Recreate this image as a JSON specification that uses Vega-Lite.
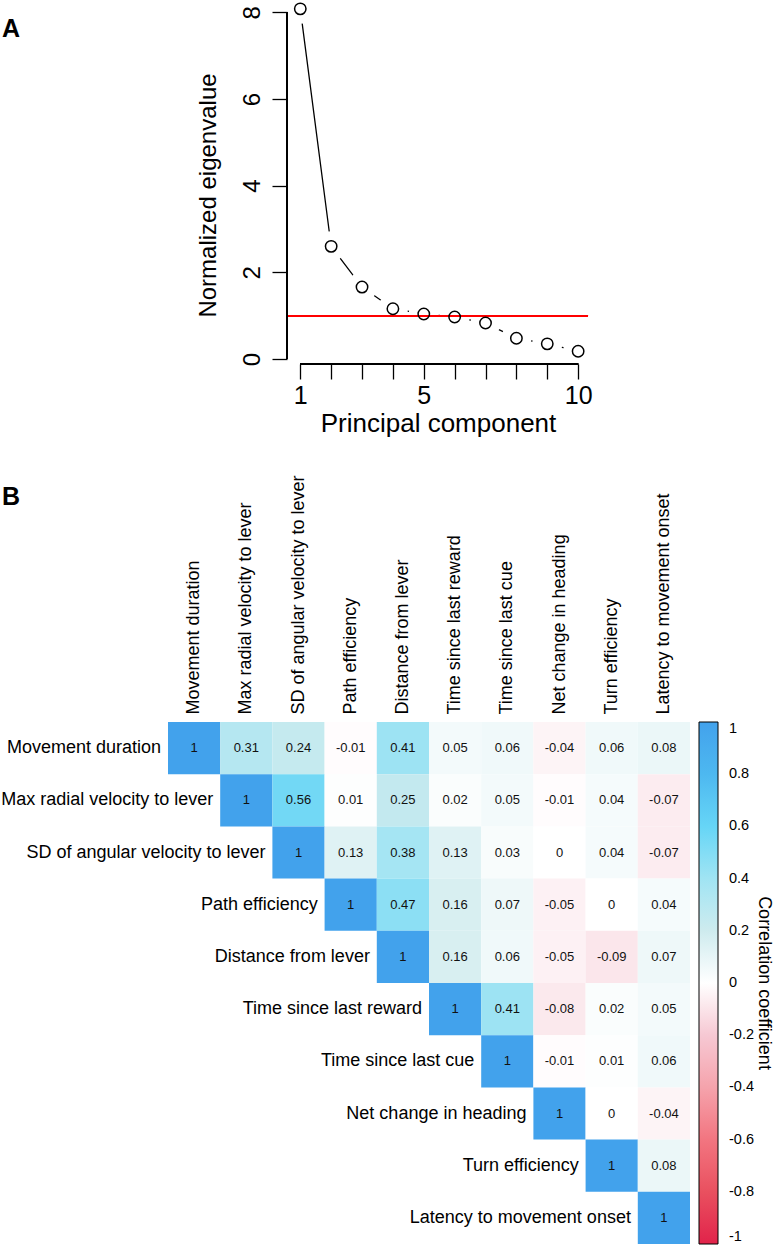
{
  "$schema": "https://vega.github.io/schema/vega-lite/v6.json",
  "padding": {"left": 1, "top": 0, "right": 0, "bottom": 0},
  "config": {
    "font": "Liberation Sans",
    "view": {"stroke": null},
    "axis": {"labelColor": "black", "titleColor": "black", "titleFontWeight": "normal", "tickColor": "black", "domainColor": "black", "grid": false, "labelFont": "Liberation Sans", "titleFont": "Liberation Sans"},
    "legend": {"labelFont": "Liberation Sans", "titleFont": "Liberation Sans"},
    "title": {"font": "Liberation Sans", "color": "black"}
  },
  "resolve": {"legend": {"color": "independent"}, "scale": {"color": "independent"}},
  "spacing": 38,
  "vconcat": [
    {
      "width": 421,
      "height": 362,
      "title": {"text": "A", "anchor": "start", "frame": "group", "fontSize": 25, "fontWeight": "bold", "dx": -166, "dy": 42, "offset": 0},
      "data": {"values": [
        {"pc": 1, "ev": 8.08}, {"pc": 2, "ev": 2.60}, {"pc": 3, "ev": 1.66}, {"pc": 4, "ev": 1.16}, {"pc": 5, "ev": 1.04},
        {"pc": 6, "ev": 0.97}, {"pc": 7, "ev": 0.83}, {"pc": 8, "ev": 0.48}, {"pc": 9, "ev": 0.35}, {"pc": 10, "ev": 0.18}
      ]},
      "encoding": {
        "x": {"field": "pc", "type": "quantitative",
          "scale": {"domain": [-3.285, 10.352], "nice": false, "zero": false},
          "axis": {"values": [1, 2, 3, 4, 5, 6, 7, 8, 9, 10],
            "labelExpr": "datum.value == 1 || datum.value == 5 || datum.value == 10 ? datum.label : ''",
            "domain": false, "tickSize": 15, "tickWidth": 1.3, "labelFontSize": 25, "labelPadding": 4,
            "title": "Principal component", "titleFontSize": 26, "titleX": 270, "titlePadding": 2, "zindex": 1}},
        "y": {"field": "ev", "type": "quantitative",
          "scale": {"domain": [-0.115, 8.238], "nice": false, "zero": false},
          "axis": {"values": [0, 2, 4, 6, 8], "offset": -119, "domain": false, "tickSize": 15, "tickWidth": 1.3,
            "labelAngle": -90, "labelAlign": "center", "labelBaseline": "bottom", "labelFontSize": 24, "labelPadding": 8,
            "title": "Normalized eigenvalue", "titleFontSize": 24, "titleY": 193, "titlePadding": 20, "zindex": 1}}
      },
      "layer": [
        {"mark": {"type": "line", "color": "black", "strokeWidth": 1.3}},
        {"mark": {"type": "point", "shape": "circle", "filled": true, "fill": "white", "color": "white", "fillOpacity": 1, "opacity": 1, "size": 900, "strokeOpacity": 0, "clip": true}},
        {"mark": {"type": "rule", "color": "#FF0000", "strokeWidth": 1.5},
          "encoding": {"x": {"datum": 0.572}, "x2": {"datum": 10.32}, "y": {"datum": 1}}},
        {"mark": {"type": "rule", "color": "black", "strokeWidth": 1.3},
          "encoding": {"x": {"datum": 0.572}, "y": {"datum": 0}, "y2": {"datum": 8}}},
        {"mark": {"type": "rule", "color": "black", "strokeWidth": 1.3},
          "encoding": {"x": {"datum": 1}, "x2": {"datum": 10}, "y": {"datum": -0.115}}},
        {"mark": {"type": "point", "shape": "circle", "filled": false, "stroke": "black", "strokeWidth": 1.5, "size": 130, "opacity": 1}}
      ]
    },
    {
      "width": 522,
      "height": 522,
      "title": {"text": "B", "anchor": "start", "frame": "group", "fontSize": 25, "fontWeight": "bold", "dx": -166, "dy": 35, "offset": 0},
      "data": {"values": [
        {"row": "Movement duration", "col": "Movement duration", "v": 1},
        {"row": "Movement duration", "col": "Max radial velocity to lever", "v": 0.31},
        {"row": "Movement duration", "col": "SD of angular velocity to lever", "v": 0.24},
        {"row": "Movement duration", "col": "Path efficiency", "v": -0.01},
        {"row": "Movement duration", "col": "Distance from lever", "v": 0.41},
        {"row": "Movement duration", "col": "Time since last reward", "v": 0.05},
        {"row": "Movement duration", "col": "Time since last cue", "v": 0.06},
        {"row": "Movement duration", "col": "Net change in heading", "v": -0.04},
        {"row": "Movement duration", "col": "Turn efficiency", "v": 0.06},
        {"row": "Movement duration", "col": "Latency to movement onset", "v": 0.08},
        {"row": "Max radial velocity to lever", "col": "Max radial velocity to lever", "v": 1},
        {"row": "Max radial velocity to lever", "col": "SD of angular velocity to lever", "v": 0.56},
        {"row": "Max radial velocity to lever", "col": "Path efficiency", "v": 0.01},
        {"row": "Max radial velocity to lever", "col": "Distance from lever", "v": 0.25},
        {"row": "Max radial velocity to lever", "col": "Time since last reward", "v": 0.02},
        {"row": "Max radial velocity to lever", "col": "Time since last cue", "v": 0.05},
        {"row": "Max radial velocity to lever", "col": "Net change in heading", "v": -0.01},
        {"row": "Max radial velocity to lever", "col": "Turn efficiency", "v": 0.04},
        {"row": "Max radial velocity to lever", "col": "Latency to movement onset", "v": -0.07},
        {"row": "SD of angular velocity to lever", "col": "SD of angular velocity to lever", "v": 1},
        {"row": "SD of angular velocity to lever", "col": "Path efficiency", "v": 0.13},
        {"row": "SD of angular velocity to lever", "col": "Distance from lever", "v": 0.38},
        {"row": "SD of angular velocity to lever", "col": "Time since last reward", "v": 0.13},
        {"row": "SD of angular velocity to lever", "col": "Time since last cue", "v": 0.03},
        {"row": "SD of angular velocity to lever", "col": "Net change in heading", "v": 0},
        {"row": "SD of angular velocity to lever", "col": "Turn efficiency", "v": 0.04},
        {"row": "SD of angular velocity to lever", "col": "Latency to movement onset", "v": -0.07},
        {"row": "Path efficiency", "col": "Path efficiency", "v": 1},
        {"row": "Path efficiency", "col": "Distance from lever", "v": 0.47},
        {"row": "Path efficiency", "col": "Time since last reward", "v": 0.16},
        {"row": "Path efficiency", "col": "Time since last cue", "v": 0.07},
        {"row": "Path efficiency", "col": "Net change in heading", "v": -0.05},
        {"row": "Path efficiency", "col": "Turn efficiency", "v": 0},
        {"row": "Path efficiency", "col": "Latency to movement onset", "v": 0.04},
        {"row": "Distance from lever", "col": "Distance from lever", "v": 1},
        {"row": "Distance from lever", "col": "Time since last reward", "v": 0.16},
        {"row": "Distance from lever", "col": "Time since last cue", "v": 0.06},
        {"row": "Distance from lever", "col": "Net change in heading", "v": -0.05},
        {"row": "Distance from lever", "col": "Turn efficiency", "v": -0.09},
        {"row": "Distance from lever", "col": "Latency to movement onset", "v": 0.07},
        {"row": "Time since last reward", "col": "Time since last reward", "v": 1},
        {"row": "Time since last reward", "col": "Time since last cue", "v": 0.41},
        {"row": "Time since last reward", "col": "Net change in heading", "v": -0.08},
        {"row": "Time since last reward", "col": "Turn efficiency", "v": 0.02},
        {"row": "Time since last reward", "col": "Latency to movement onset", "v": 0.05},
        {"row": "Time since last cue", "col": "Time since last cue", "v": 1},
        {"row": "Time since last cue", "col": "Net change in heading", "v": -0.01},
        {"row": "Time since last cue", "col": "Turn efficiency", "v": 0.01},
        {"row": "Time since last cue", "col": "Latency to movement onset", "v": 0.06},
        {"row": "Net change in heading", "col": "Net change in heading", "v": 1},
        {"row": "Net change in heading", "col": "Turn efficiency", "v": 0},
        {"row": "Net change in heading", "col": "Latency to movement onset", "v": -0.04},
        {"row": "Turn efficiency", "col": "Turn efficiency", "v": 1},
        {"row": "Turn efficiency", "col": "Latency to movement onset", "v": 0.08},
        {"row": "Latency to movement onset", "col": "Latency to movement onset", "v": 1}
      ]},
      "encoding": {
        "x": {"field": "col", "type": "nominal",
          "sort": ["Movement duration", "Max radial velocity to lever", "SD of angular velocity to lever", "Path efficiency", "Distance from lever", "Time since last reward", "Time since last cue", "Net change in heading", "Turn efficiency", "Latency to movement onset"],
          "scale": {"paddingInner": 0, "paddingOuter": 0},
          "axis": {"orient": "top", "title": null, "labelAngle": -90, "domain": false, "ticks": false, "labelPadding": 8, "labelFontSize": 18, "labelLimit": 400}},
        "y": {"field": "row", "type": "nominal",
          "sort": ["Movement duration", "Max radial velocity to lever", "SD of angular velocity to lever", "Path efficiency", "Distance from lever", "Time since last reward", "Time since last cue", "Net change in heading", "Turn efficiency", "Latency to movement onset"],
          "scale": {"paddingInner": 0, "paddingOuter": 0},
          "axis": null}
      },
      "layer": [
        {"mark": {"type": "rect"},
          "encoding": {"color": {"field": "v", "type": "quantitative",
            "scale": {"type": "linear", "domain": [-1, -0.8, -0.6, -0.4, -0.2, 0, 0.2, 0.4, 0.6, 0.8, 1],
              "range": ["#E1234A", "#E9505F", "#F27580", "#F5A3AC", "#F6C8D3", "#FFFFFF", "#CEEBEE", "#A0E4F3", "#66D5F6", "#4DB8F0", "#42A2EC"],
              "interpolate": "rgb"},
            "legend": {"orient": "right", "offset": 9, "padding": 0, "gradientLength": 522, "gradientThickness": 19,
              "gradientStrokeColor": "black", "gradientStrokeWidth": 1,
              "values": [1, 0.8, 0.6, 0.4, 0.2, 0, -0.2, -0.4, -0.6, -0.8, -1],
              "labelExpr": "'' + datum.value", "labelFontSize": 14.5, "labelColor": "black", "labelOffset": 11,
              "labelBaseline": "middle",
              "title": "Correlation coefficient", "titleOrient": "right", "titleAnchor": "middle", "titleFontSize": 18,
              "titleFontWeight": "normal", "titleColor": "black", "titlePadding": 1}}}},
        {"mark": {"type": "text", "fontSize": 13, "color": "#111111"},
          "encoding": {"text": {"field": "v", "type": "nominal"}}},
        {"transform": [{"filter": "datum.row == datum.col"}],
          "mark": {"type": "text", "align": "right", "baseline": "middle", "dx": -33, "fontSize": 18, "color": "black"},
          "encoding": {"text": {"field": "row", "type": "nominal"}}}
      ]
    }
  ]
}
